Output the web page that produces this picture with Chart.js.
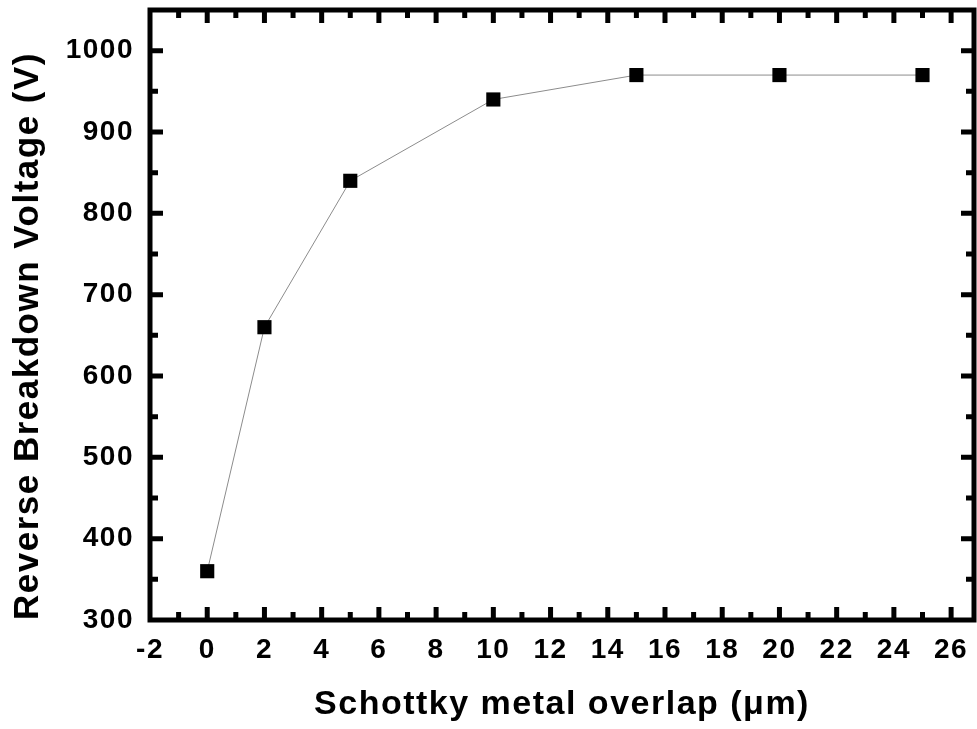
<!DOCTYPE html>
<html>
<head>
<meta charset="utf-8">
<script src="https://cdn.jsdelivr.net/npm/chart.js@4"></script>
<style>
  html, body { margin: 0; padding: 0; background: #fff; }
  #wrap { width: 977px; height: 729px; }
</style>
</head>
<body>
<div id="wrap"><canvas id="breakdownChart"></canvas></div>
<script>
const overlap = [0, 2, 5, 10, 15, 20, 25];
const breakdownVoltage = [360, 660, 840, 940, 970, 970, 970];
const xTitle = "Schottky metal overlap (\u03bcm)";
const yTitle = "Reverse Breakdown Voltage (V)";

const fontFamily = "'Liberation Sans', Arial, sans-serif";

// the original text is a bit wider spaced than canvas default
const spacing = {
    id: "spacing",
    beforeUpdate(chart) { chart.ctx.letterSpacing = "1.5px"; },
    beforeDraw(chart) { chart.ctx.letterSpacing = "1.5px"; }
};

// frame plus inward major/minor ticks on all four sides
const frameTicks = {
    id: "frameTicks",
    afterDraw(chart) {
        const ctx = chart.ctx;
        const area = chart.chartArea;
        const xs = chart.scales.x;
        const ys = chart.scales.y;
        ctx.save();
        ctx.strokeStyle = "#000";
        ctx.lineWidth = 5;
        ctx.lineCap = "butt";
        ctx.beginPath();
        for (let v = Math.ceil(xs.min); v <= xs.max; v++) {
            const px = xs.getPixelForValue(v);
            if (px <= area.left + 3 || px >= area.right - 3) continue;
            const len = v % 2 === 0 ? 13 : 8;
            ctx.moveTo(px, area.bottom);
            ctx.lineTo(px, area.bottom - len);
            ctx.moveTo(px, area.top);
            ctx.lineTo(px, area.top + len);
        }
        for (let v = ys.min; v <= ys.max; v += 50) {
            const py = ys.getPixelForValue(v);
            if (py >= area.bottom - 3 || py <= area.top + 3) continue;
            const len = v % 100 === 0 ? 13 : 8;
            ctx.moveTo(area.left, py);
            ctx.lineTo(area.left + len, py);
            ctx.moveTo(area.right, py);
            ctx.lineTo(area.right - len, py);
        }
        ctx.stroke();
        ctx.strokeRect(area.left, area.top, area.right - area.left, area.bottom - area.top);
        ctx.restore();
    }
};

new Chart(document.getElementById("breakdownChart"), {
    type: "line",
    data: {
        datasets: [{
            data: overlap.map((x, i) => ({ x: x, y: breakdownVoltage[i] })),
            borderColor: "#8c8c8c",
            borderWidth: 1,
            pointStyle: "rect",
            pointRadius: 10,
            pointBackgroundColor: "#000",
            pointBorderColor: "#000",
            pointBorderWidth: 0,
            tension: 0,
            fill: false
        }]
    },
    options: {
        responsive: true,
        maintainAspectRatio: false,
        animation: false,
        layout: { autoPadding: false, padding: { top: 10, right: 3, left: 0, bottom: 0 } },
        plugins: { legend: { display: false }, tooltip: { enabled: false } },
        scales: {
            x: {
                type: "linear",
                min: -2,
                max: 26.8,
                afterFit: s => {
                    s.height = 109;
                    s.paddingLeft = 0;
                    s.paddingRight = 0;
                },
                grid: { display: false, drawTicks: false },
                border: { display: false },
                ticks: {
                    stepSize: 2,
                    includeBounds: false,
                    padding: 13,
                    color: "#000",
                    maxRotation: 0,
                    callback: v => String(v),
                    font: { family: fontFamily, size: 28, weight: "bold" }
                },
                title: {
                    display: true,
                    text: xTitle,
                    color: "#000",
                    padding: { top: 0, bottom: 4 },
                    font: { family: fontFamily, size: 34, weight: "bold" }
                }
            },
            y: {
                min: 300,
                max: 1050,
                afterFit: s => {
                    s.width = 150;
                    s.paddingTop = 0;
                    s.paddingBottom = 0;
                },
                grid: { display: false, drawTicks: false },
                border: { display: false },
                ticks: {
                    stepSize: 100,
                    includeBounds: false,
                    padding: 16,
                    color: "#000",
                    callback: v => String(v),
                    font: { family: fontFamily, size: 28, weight: "bold" }
                },
                title: {
                    display: true,
                    text: yTitle,
                    align: "start",
                    color: "#000",
                    padding: { top: 7, bottom: 0 },
                    font: { family: fontFamily, size: 35, weight: "bold" }
                }
            }
        }
    },
    plugins: [spacing, frameTicks]
});
</script>
</body>
</html>
